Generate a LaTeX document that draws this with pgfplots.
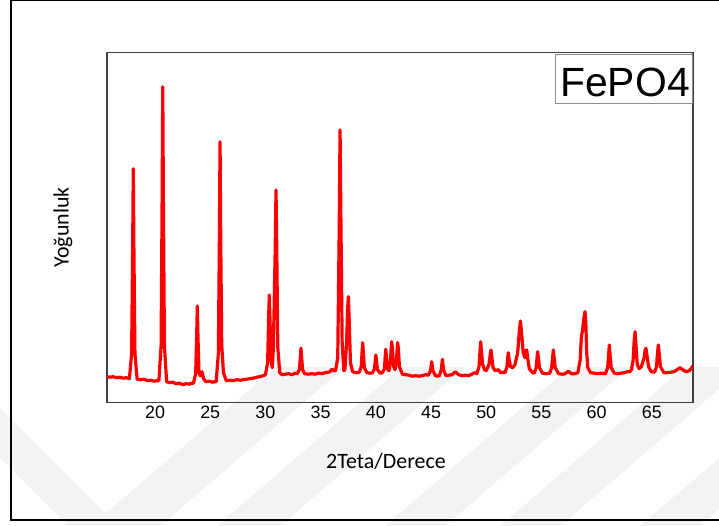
\documentclass[border=0pt]{standalone}
\usepackage{pgfplots}
\pgfplotsset{compat=1.18}
\usepackage{fontspec}
\setmainfont{Liberation Sans}
\newfontfamily\labelfont{Carlito}
\definecolor{xrdred}{RGB}{255,0,0}
\definecolor{axisgray}{RGB}{64,64,64}
\definecolor{boxgray}{RGB}{140,140,140}
\definecolor{markgray}{RGB}{243,243,243}

\begin{document}
\begin{tikzpicture}[x=1bp,y=1bp]
\useasboundingbox (0,0) rectangle (719,526);

% faint background stripes
\begin{scope}
  \clip (0,0) rectangle (719,158);
  \fill[markgray] (0,118) -- (118,0) -- (68,0) -- (0,68) -- cycle;
  \fill[markgray] (91,0) -- (160,0) -- (392.6,200) -- (323.6,200) -- cycle;
  \fill[markgray] (217,0) -- (280,0) -- (512.6,200) -- (449.6,200) -- cycle;
  \fill[markgray] (385,0) -- (445,0) -- (677.6,200) -- (617.6,200) -- cycle;
  \fill[markgray] (500,0) -- (560,0) -- (792.6,200) -- (732.6,200) -- cycle;
  \fill[markgray] (640,0) -- (700,0) -- (932.6,200) -- (872.6,200) -- cycle;
\end{scope}

% page frame
\draw[line width=2bp] (11,5.5) rectangle (720,525.5);

\begin{axis}[
  at={(107bp,123.3bp)}, anchor=south west,
  scale only axis, width=586bp, height=350bp,
  xmin=15.65, xmax=68.73, ymin=0, ymax=350,
  xtick={20,25,...,65}, ytick=\empty,
  major tick length=0pt,
  axis line style={draw=axisgray, line width=1.2bp},
  /pgf/number format/assume math mode=true,
  xticklabel style={font=\fontsize{18}{19}\selectfont, anchor=center, yshift=-9.8bp},
  xlabel={2Teta/Derece},
  ylabel={Yoğunluk},
  xlabel style={font=\labelfont\fontsize{22}{24}\selectfont,
    at={(axis description cs:0.476,-0.169)}, anchor=center},
  ylabel style={font=\labelfont\fontsize{22}{24}\selectfont,
    at={(axis description cs:-0.0751,0.5)}, anchor=center, rotate=0},
]
\addplot[xrdred, line width=3.2bp, line join=round, no markers] table {
x y
15.65 26
15.9 25.5
16.2 26
16.5 25
16.8 25.5
17.1 24.5
17.4 25
17.68 24
17.88 49
17.97 150
18.03 234
18.09 150
18.18 49
18.38 23.5
18.7 23
19.0 23.5
19.3 22
19.6 22.5
19.9 21.5
20.2 22
20.35 22
20.55 57
20.64 198
20.70 316
20.76 198
20.85 57
21.05 21
21.3 20
21.6 20.5
21.9 19
22.2 19.5
22.5 18
22.8 19
23.1 18.5
23.3 19.5
23.48 19.5
23.68 29
23.77 66
23.83 96.7
23.89 66
23.98 30
24.1 27
24.25 31
24.4 24
24.6 21
24.9 21.5
25.2 20.5
25.4 21
25.54 21
25.74 50
25.83 165
25.89 261
25.95 165
26.04 58
26.2 30
26.45 22
26.8 22.5
27.1 22
27.4 23
27.7 22.5
28.0 23
28.3 23.5
28.6 24
28.9 24.5
29.2 25.5
29.5 26
29.8 27
30.0 28
30.2 40
30.29 85
30.35 107.7
30.42 80
30.52 42
30.62 35
30.72 55
30.88 150
30.96 212.7
31.03 150
31.12 55
31.3 30
31.5 28
31.8 28.5
32.1 29
32.4 28
32.7 29.5
32.9 29
33.07 33
33.16 45
33.22 54.7
33.28 45
33.37 33
33.55 29
33.9 28.5
34.2 29
34.5 28.5
34.8 29.5
35.1 29
35.4 30
35.7 30.5
35.85 31
36.03 33.5
36.2 32
36.35 32
36.55 45
36.68 170
36.76 272.7
36.84 180
36.95 60
37.1 32
37.2 33
37.35 60
37.45 95
37.51 106
37.58 85
37.7 40
37.9 31
38.2 30
38.5 30.5
38.68 36
38.75 50
38.81 60
38.87 50
38.96 35
39.2 30
39.5 29.5
39.7 30
39.88 34
39.95 42
40.0 47.7
40.06 42
40.15 33
40.4 29.5
40.6 30
40.78 34
40.85 46
40.9 53.4
40.96 46
41.08 33
41.2 32
41.32 40
41.39 54
41.44 61
41.5 54
41.62 36
41.74 33
41.86 40
41.93 54
41.98 60
42.04 54
42.14 36
42.4 28.5
42.7 28
43.0 27.5
43.3 26.5
43.6 27
43.9 26.5
44.2 27
44.5 28
44.75 27.5
44.95 32
45.06 41
45.17 32
45.4 27
45.6 26.5
45.75 27
45.93 33
46.03 43.4
46.13 33
46.35 27
46.6 27.5
46.9 28
47.2 31
47.5 28
47.8 27
48.1 27.5
48.4 27
48.7 28.5
48.95 30
49.15 29
49.35 36
49.44 52
49.5 61
49.56 52
49.68 38
49.85 33
50.0 32
50.25 38
50.36 48
50.43 52.7
50.5 46
50.62 35
50.8 32
51.1 33
51.3 30
51.5 30.5
51.7 30
51.88 36
51.95 45
52.0 50
52.06 44
52.2 36
52.4 35
52.6 38
52.85 50
53.0 72
53.1 81.7
53.2 70
53.35 50
53.5 45
53.6 52
53.67 52.7
53.75 45
53.9 34
54.2 30
54.35 29.5
54.52 35
54.6 45
54.66 51
54.72 45
54.82 35
55.1 29.5
55.4 29
55.75 29.5
55.93 35
56.02 46
56.08 52.7
56.14 46
56.25 35
56.55 29
56.9 28.5
57.15 29
57.44 31.5
57.7 29
58.0 29
58.3 30
58.5 42
58.62 66
58.72 72
58.86 86
58.95 91
59.02 80
59.1 50
59.2 35
59.45 30
59.8 29.5
60.1 29
60.4 29.5
60.8 29
61.0 35
61.09 49
61.15 57.7
61.21 49
61.32 35
61.6 29.5
61.9 29
62.2 29.5
62.5 30
62.8 31
63.0 31
63.15 33
63.3 42
63.4 62
63.48 71
63.55 60
63.68 38
63.85 34
64.05 36
64.3 45
64.4 53
64.47 54.4
64.55 48
64.7 36
64.95 31
65.25 30.5
65.42 36
65.52 50
65.59 57.7
65.66 50
65.78 36
66.1 30
66.4 30
66.7 30.5
67.0 31
67.3 33
67.55 35
67.8 33
68.1 31
68.4 32
68.73 36.7
};
\end{axis}

% sample label box
\draw[boxgray, line width=0.9bp, fill=white] (555.7,422.7) rectangle (692.7,472);
\node[anchor=base, font=\fontsize{41}{44}\selectfont, inner sep=0pt] at (625,429.3) {FePO4};
\end{tikzpicture}
\end{document}
